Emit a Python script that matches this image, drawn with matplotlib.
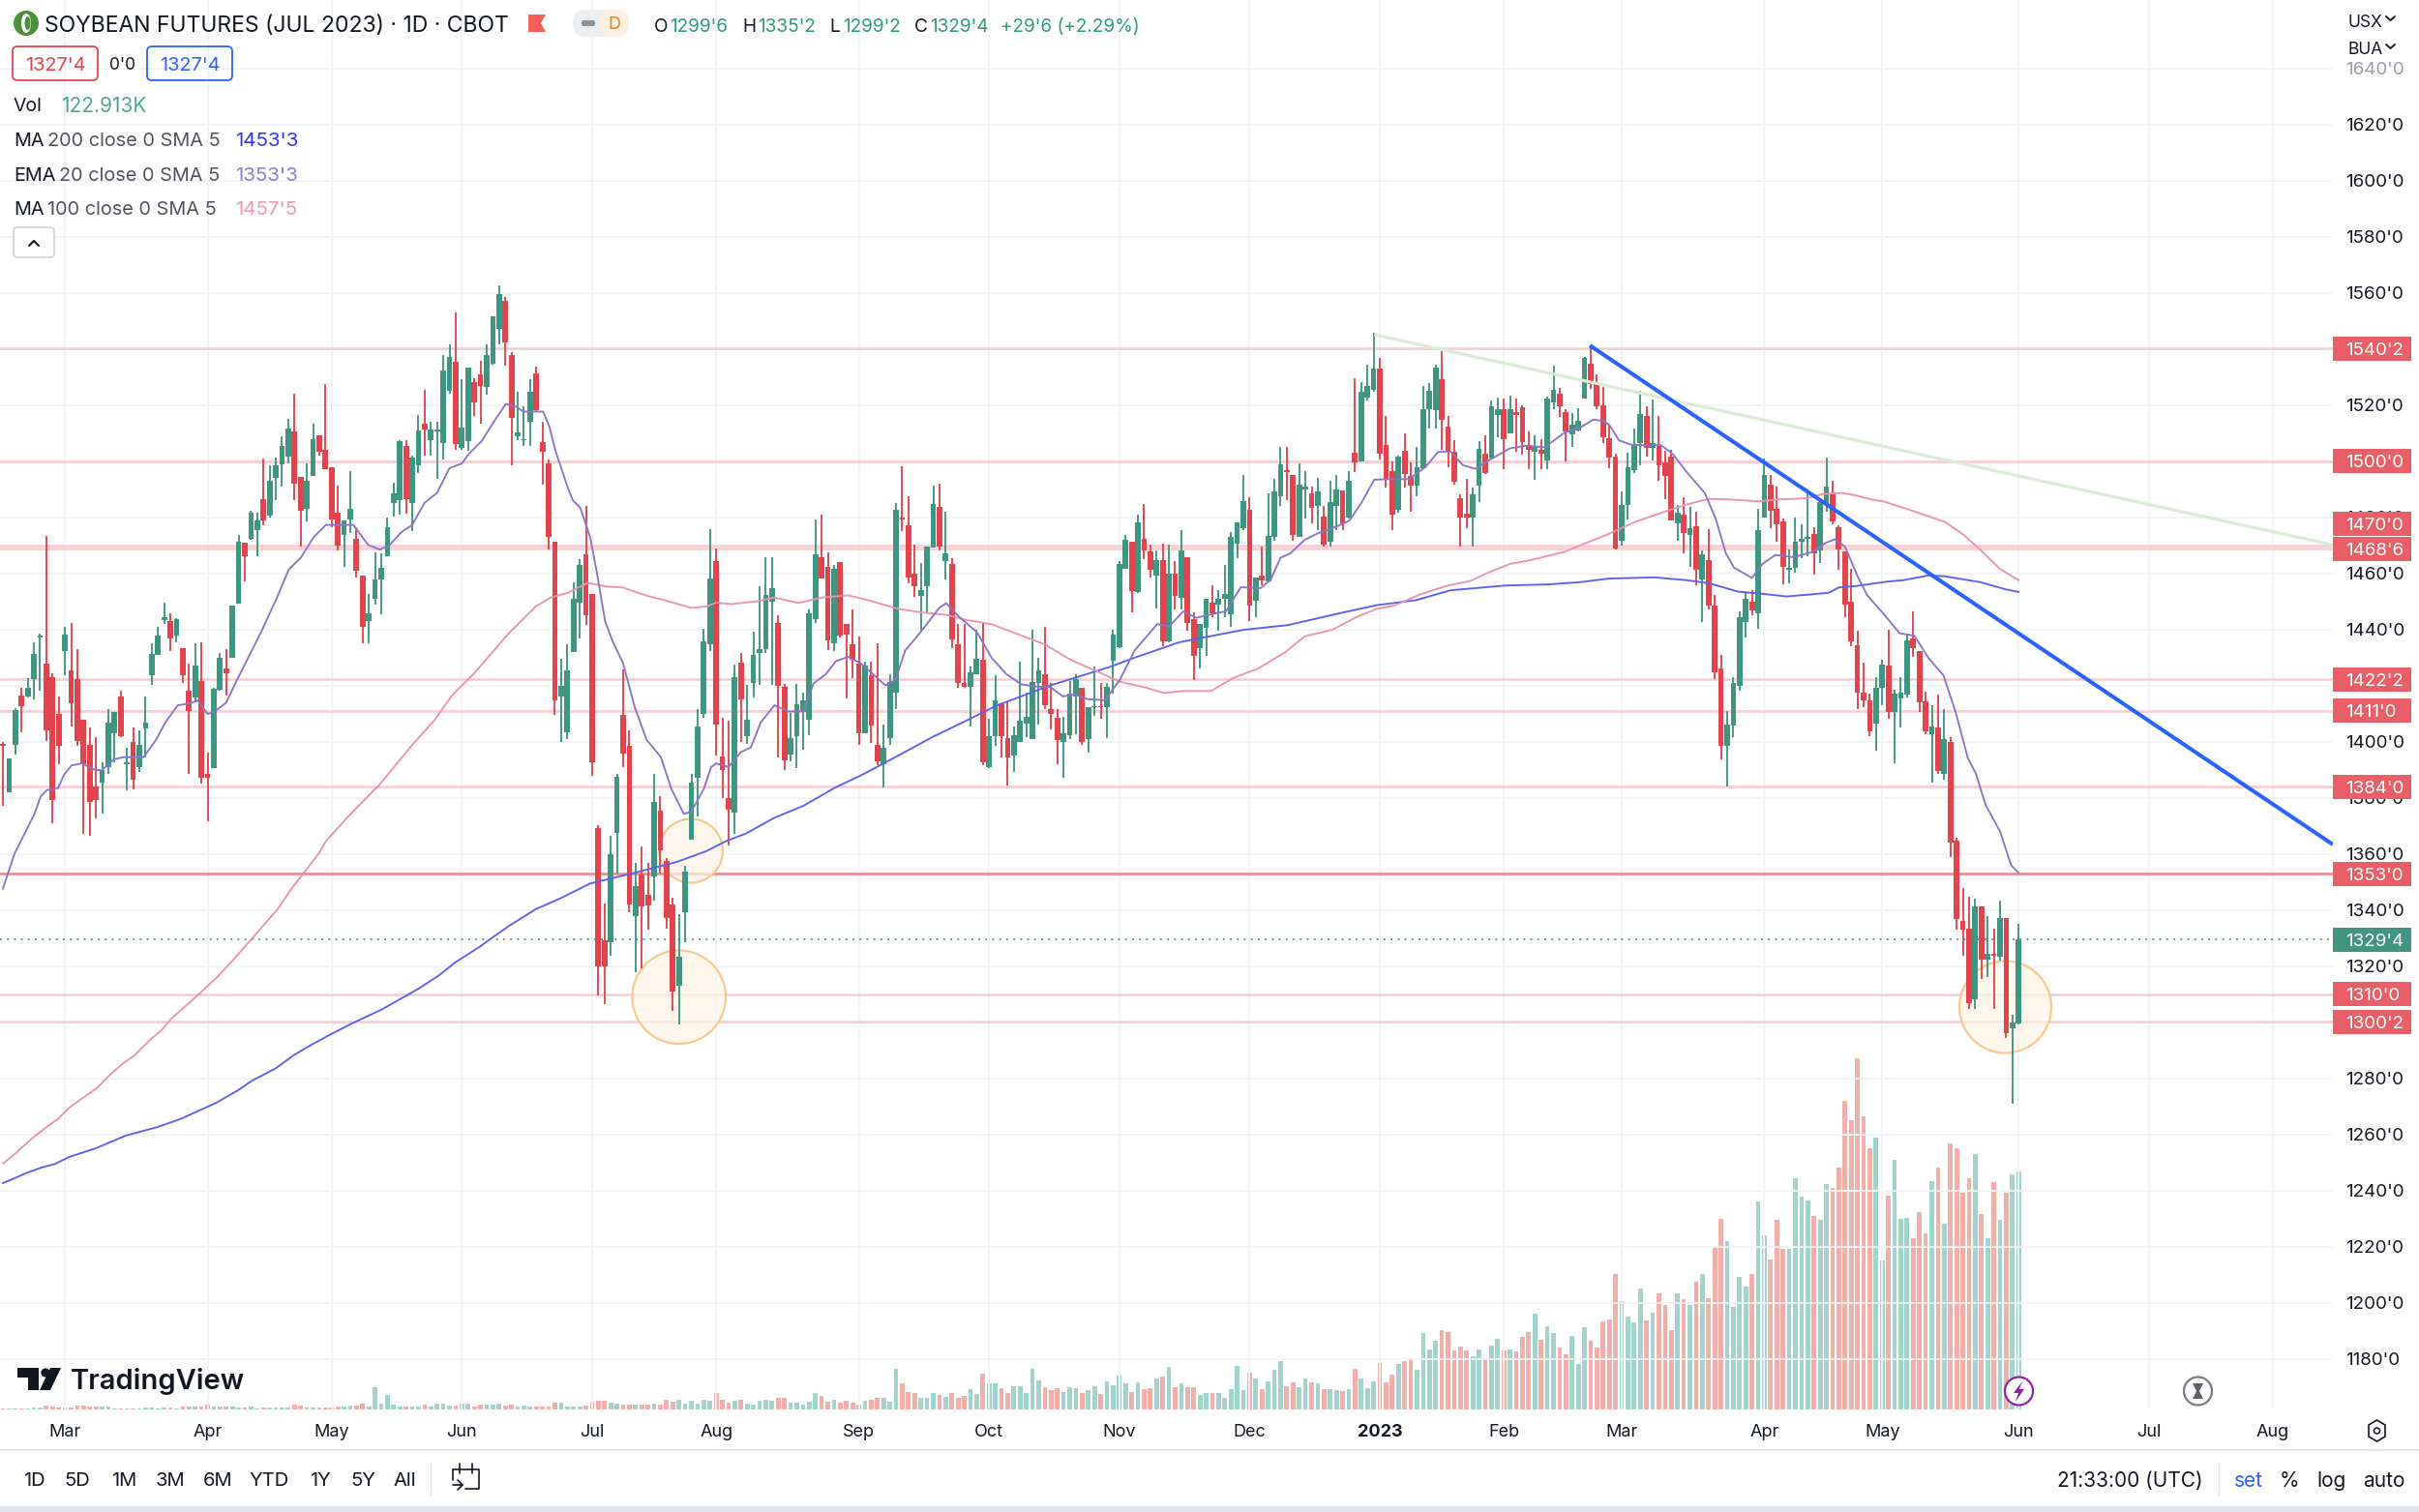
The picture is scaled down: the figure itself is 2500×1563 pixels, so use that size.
import numpy as np
import matplotlib
matplotlib.use("Agg")
import matplotlib.pyplot as plt
from matplotlib.patches import Rectangle, FancyBboxPatch, Ellipse, Circle, Polygon
from matplotlib.lines import Line2D
from matplotlib.transforms import Affine2D, IdentityTransform, blended_transform_factory

plt.rcParams['font.family'] = ['Inter', 'DejaVu Sans']

# ---------------------- data ----------------------
opens = [1399.3,1381.9,1399.0,1416.6,1416.0,1422.5,1437.0,1427.8,1423.2,1409.9,
1432.2,1425.3,1422.3,1407.7,1398.9,1384.0,1385.4,1391.0,1403.0,1416.2,
1391.9,1399.8,1391.0,1404.7,1423.6,1431.0,1443.3,1443.0,1437.7,1433.3,
1418.1,1415.8,1421.8,1388.7,1390.7,1418.6,1426.2,1429.9,1449.3,1470.9,
1472.5,1475.3,1486.6,1480.6,1494.0,1498.9,1501.7,1510.7,1494.5,1482.9,
1494.7,1509.3,1504.0,1497.9,1481.7,1473.6,1479.2,1472.3,1459.1,1443.0,
1451.0,1457.7,1466.2,1485.2,1486.0,1505.4,1485.0,1498.4,1513.3,1507.4,
1510.7,1506.5,1525.1,1535.5,1504.9,1507.2,1528.3,1530.9,1526.5,1534.8,
1547.3,1557.3,1537.8,1509.0,1507.4,1514.2,1531.3,1507.0,1499.1,1471.3,
1416.0,1403.3,1431.9,1449.6,1466.7,1452.6,1369.4,1329.4,1328.5,1367.6,
1409.7,1398.6,1337.7,1352.6,1345.3,1352.1,1375.4,1357.6,1342.1,1313.1,
1339.4,1365.0,1387.2,1409.9,1434.8,1464.4,1394.9,1379.9,1374.8,1428.3,
1402.1,1421.0,1431.5,1432.9,1450.0,1442.2,1419.6,1395.6,1402.0,1410.6,
1408.0,1443.7,1465.9,1462.4,1435.0,1464.0,1442.0,1434.9,1428.0,1403.0,
1423.7,1399.0,1392.1,1401.4,1417.5,1479.8,1477.3,1460.0,1452.0,1455.4,
1469.1,1483.7,1464.5,1463.4,1434.6,1420.8,1419.5,1424.1,1429.2,1391.0,
1402.0,1413.5,1401.4,1395.0,1399.9,1406.5,1401.0,1420.8,1424.1,1411.7,
1408.5,1399.9,1402.3,1416.2,1419.2,1401.0,1412.3,1412.7,1412.5,1429.0,
1433.6,1461.7,1471.3,1453.5,1472.5,1468.0,1459.3,1464.6,1435.7,1460.0,
1451.4,1465.9,1443.7,1433.4,1440.6,1449.6,1449.0,1450.9,1445.6,1470.5,
1476.0,1482.7,1450.4,1459.1,1457.1,1473.0,1487.4,1497.0,1495.0,1473.2,
1490.0,1488.7,1484.1,1480.2,1471.3,1484.1,1489.5,1479.9,1502.9,1500.0,
1522.8,1525.4,1533.0,1505.9,1496.4,1482.6,1503.7,1494.7,1491.4,1497.6,
1518.7,1518.2,1529.3,1512.4,1503.3,1487.0,1481.2,1479.9,1491.3,1502.6,
1501.3,1516.5,1518.7,1509.9,1517.4,1519.1,1505.9,1503.3,1504.2,1500.2,
1520.8,1524.2,1517.6,1509.6,1511.1,1522.3,1534.8,1527.9,1519.9,1508.3,
1501.7,1471.8,1484.4,1496.7,1506.4,1516.1,1504.6,1505.8,1499.5,1501.7,
1477.8,1480.8,1473.7,1476.7,1457.8,1464.7,1448.7,1426.0,1398.4,1405.8,
1419.9,1442.7,1450.0,1445.7,1479.9,1491.8,1483.2,1478.4,1461.2,1461.9,
1471.3,1472.2,1473.9,1468.1,1484.9,1488.7,1476.5,1467.7,1450.1,1434.3,
1417.6,1414.8,1406.4,1419.1,1427.0,1410.7,1415.4,1416.7,1436.7,1432.4,
1414.5,1402.7,1405.1,1388.7,1399.9,1364.9,1336.3,1333.3,1308.1,1341.2,
1322.3,1324.4,1323.4,1337.3,1298.0,1299.75]

closes = [1398.4,1394.2,1411.3,1412.7,1419.2,1431.3,1437.7,1403.9,1379.1,1398.6,
1438.2,1413.7,1400.2,1391.9,1378.4,1379.1,1390.1,1406.9,1410.7,1402.1,
1392.8,1386.6,1398.9,1406.9,1431.3,1438.0,1444.4,1436.8,1443.8,1423.6,
1411.1,1427.1,1387.3,1387.3,1418.8,1430.1,1424.5,1448.7,1471.3,1466.3,
1481.7,1479.0,1479.0,1492.9,1498.4,1505.4,1511.6,1491.9,1482.2,1492.9,
1507.7,1503.5,1497.2,1479.4,1470.0,1478.8,1483.2,1461.1,1440.8,1445.8,
1457.7,1462.1,1476.6,1488.5,1507.2,1486.4,1501.4,1511.0,1511.4,1511.4,
1511.2,1532.3,1537.1,1506.3,1512.1,1533.4,1521.1,1526.9,1537.8,1551.7,
1559.6,1542.4,1515.5,1510.2,1507.9,1524.8,1518.1,1503.5,1472.9,1414.8,
1420.0,1425.3,1450.9,1463.2,1445.2,1392.8,1320.1,1319.9,1359.9,1387.5,
1395.9,1341.9,1348.4,1341.4,1341.7,1378.7,1361.4,1337.3,1310.9,1323.5,
1353.7,1385.4,1405.4,1435.9,1458.2,1406.0,1389.8,1375.7,1423.0,1415.1,
1407.7,1431.1,1432.9,1452.3,1454.7,1420.1,1393.5,1401.3,1413.5,1414.6,
1445.9,1466.8,1458.1,1436.0,1461.7,1437.9,1438.3,1429.4,1403.0,1427.1,
1405.9,1393.1,1397.7,1421.3,1482.8,1479.4,1458.4,1455.4,1454.2,1469.6,
1484.9,1469.6,1467.2,1436.6,1421.0,1419.7,1424.7,1429.6,1392.8,1402.0,
1414.6,1402.0,1394.4,1402.3,1407.6,1408.9,1421.3,1425.3,1412.9,1410.0,
1400.7,1403.0,1417.2,1422.5,1400.0,1412.5,1412.7,1412.3,1419.5,1438.2,
1463.4,1471.9,1453.8,1478.2,1468.3,1461.4,1464.6,1435.7,1460.1,1452.1,
1468.3,1442.4,1430.7,1441.9,1450.9,1445.9,1451.0,1452.8,1473.0,1478.2,
1485.8,1448.5,1458.4,1457.5,1473.3,1489.1,1498.9,1496.3,1473.8,1491.6,
1491.1,1483.5,1489.4,1470.4,1485.4,1490.1,1478.0,1493.0,1499.7,1524.8,
1526.7,1533.2,1502.6,1493.4,1481.1,1501.7,1495.4,1491.4,1497.7,1518.7,
1525.0,1533.4,1514.9,1503.3,1492.7,1479.9,1479.9,1488.1,1504.3,1495.7,
1519.5,1518.7,1507.9,1518.4,1516.5,1506.8,1504.2,1505.6,1502.6,1522.4,
1525.5,1519.5,1510.5,1513.0,1514.4,1536.9,1527.5,1519.5,1508.7,1501.4,
1469.0,1484.4,1498.0,1506.0,1516.9,1504.6,1506.6,1498.6,1494.6,1478.9,
1481.6,1474.3,1476.0,1461.2,1466.8,1448.5,1424.7,1398.4,1406.0,1421.0,
1444.4,1450.9,1446.8,1475.4,1495.0,1482.5,1477.4,1462.3,1461.9,1471.3,
1472.2,1473.1,1467.2,1485.5,1491.1,1478.4,1468.5,1449.0,1435.8,1417.4,
1414.6,1403.6,1419.1,1427.5,1410.7,1417.3,1417.6,1436.3,1433.5,1413.9,
1403.6,1405.3,1389.6,1400.8,1364.0,1336.9,1333.2,1306.8,1341.4,1322.3,
1324.4,1323.8,1337.3,1296.1,1299.9,1329.5]

highs = [1399.8,1394.2,1412.1,1419.2,1422.7,1435.5,1438.5,1473.4,1424.5,1416.2,
1440.8,1442.4,1432.9,1407.7,1405.1,1401.6,1392.8,1411.6,1410.7,1418.3,
1398.0,1405.1,1404.2,1416.2,1435.0,1440.8,1449.6,1445.9,1444.2,1433.3,
1427.8,1435.0,1435.4,1396.3,1419.2,1431.5,1432.9,1448.7,1473.7,1470.9,
1482.2,1481.7,1501.0,1498.4,1501.4,1508.9,1515.1,1523.9,1494.5,1499.3,
1513.3,1509.3,1527.6,1497.9,1491.3,1478.8,1496.6,1476.4,1459.1,1452.6,
1467.6,1467.2,1479.9,1492.2,1507.5,1507.5,1501.9,1516.5,1525.3,1514.2,
1513.9,1538.0,1541.5,1552.9,1529.2,1533.4,1529.5,1535.7,1541.5,1551.7,
1562.6,1558.7,1538.9,1524.8,1519.5,1529.2,1533.6,1513.9,1500.5,1471.3,
1429.7,1434.7,1456.7,1465.0,1483.9,1452.6,1370.3,1342.3,1366.6,1388.7,
1425.7,1404.2,1356.7,1362.7,1356.7,1388.7,1380.5,1358.5,1344.4,1338.6,
1355.8,1388.7,1411.6,1440.3,1475.9,1469.0,1408.6,1407.4,1427.6,1431.5,
1420.4,1439.4,1455.3,1465.8,1465.8,1445.2,1420.5,1410.2,1420.5,1417.5,
1447.2,1479.1,1480.8,1467.4,1463.0,1464.0,1442.0,1447.1,1437.5,1428.4,
1428.7,1435.0,1406.0,1424.1,1485.2,1498.2,1487.4,1470.3,1463.7,1469.6,
1491.2,1492.0,1482.1,1465.3,1441.9,1441.9,1426.7,1439.9,1442.6,1408.2,
1423.8,1413.5,1414.2,1405.6,1428.7,1417.5,1439.9,1430.0,1441.1,1420.8,
1411.5,1408.9,1421.8,1424.1,1419.2,1412.5,1426.7,1420.8,1420.8,1439.9,
1464.3,1473.8,1471.3,1480.8,1484.8,1470.3,1468.3,1470.7,1470.3,1464.3,
1475.3,1465.9,1446.1,1441.9,1451.1,1455.8,1454.2,1463.0,1474.9,1478.2,
1495.0,1487.0,1458.4,1469.6,1488.4,1493.8,1505.2,1505.2,1495.0,1499.3,
1496.4,1491.0,1494.0,1484.1,1493.1,1495.1,1489.5,1496.4,1529.7,1528.3,
1534.3,1545.9,1536.9,1516.0,1500.0,1502.0,1510.1,1499.7,1505.2,1526.7,
1527.7,1534.3,1540.0,1516.0,1507.5,1488.1,1493.8,1490.5,1507.0,1509.2,
1521.7,1522.7,1522.4,1523.5,1522.4,1519.8,1510.5,1509.2,1507.9,1523.0,
1534.1,1526.0,1518.6,1517.2,1518.9,1537.2,1541.4,1531.1,1526.4,1512.6,
1502.7,1489.2,1503.2,1511.5,1525.1,1519.5,1521.9,1516.1,1503.6,1504.0,
1484.4,1487.3,1483.8,1482.1,1468.1,1475.9,1452.2,1431.1,1411.1,1423.2,
1446.6,1453.5,1454.1,1483.0,1500.8,1495.0,1491.1,1479.7,1468.7,1479.9,
1477.4,1488.7,1476.5,1486.8,1501.2,1493.0,1477.1,1467.7,1461.6,1439.7,
1428.3,1417.3,1423.2,1429.2,1440.0,1418.6,1423.2,1438.6,1446.6,1432.4,
1418.0,1413.0,1416.7,1411.6,1401.8,1365.7,1347.9,1344.7,1344.2,1341.4,
1337.8,1333.5,1343.4,1337.3,1302.7,1335.25]

lows = [1377.3,1381.9,1395.4,1403.3,1415.7,1415.1,1418.3,1400.4,1370.8,1391.9,
1423.6,1405.6,1398.6,1367.3,1366.6,1372.6,1374.3,1388.4,1392.8,1401.6,
1382.8,1383.1,1389.3,1394.5,1420.4,1431.0,1442.1,1432.4,1435.5,1421.0,
1388.7,1413.9,1385.2,1371.5,1390.7,1418.3,1416.6,1429.9,1449.3,1457.0,
1472.0,1466.2,1477.1,1479.9,1486.1,1490.8,1499.3,1486.1,1469.7,1478.7,
1494.7,1501.9,1497.2,1476.4,1468.3,1462.3,1474.3,1458.4,1435.2,1435.2,
1448.9,1445.6,1466.2,1480.2,1480.8,1481.3,1475.0,1495.7,1501.9,1501.9,
1493.6,1500.5,1523.9,1504.2,1504.2,1503.7,1516.0,1513.3,1523.6,1534.5,
1541.5,1533.9,1498.7,1507.5,1505.4,1505.4,1517.7,1491.5,1468.5,1409.5,
1400.0,1401.0,1431.9,1436.8,1441.7,1388.0,1309.5,1306.5,1323.6,1353.2,
1391.0,1339.1,1318.0,1319.4,1332.9,1343.5,1353.2,1333.3,1303.9,1299.2,
1328.5,1365.0,1373.4,1408.6,1432.4,1395.1,1379.9,1362.9,1367.3,1399.8,
1399.3,1415.7,1420.4,1431.5,1420.4,1394.4,1389.9,1393.1,1390.7,1397.0,
1402.3,1442.2,1458.1,1432.7,1432.4,1437.0,1415.5,1422.8,1399.0,1403.0,
1399.7,1391.8,1383.8,1399.0,1411.8,1475.2,1456.4,1451.8,1439.3,1445.8,
1469.1,1468.3,1457.7,1433.3,1419.2,1419.2,1405.6,1424.1,1391.8,1390.7,
1398.6,1394.4,1384.5,1389.4,1399.9,1401.6,1401.0,1406.3,1411.8,1404.3,
1392.0,1387.1,1401.0,1402.6,1399.0,1396.1,1409.2,1408.3,1401.3,1417.2,
1433.3,1461.7,1446.2,1453.1,1465.0,1458.4,1447.4,1434.2,1435.3,1447.2,
1447.2,1439.5,1422.1,1426.3,1430.7,1444.5,1439.5,1444.5,1440.8,1465.4,
1475.6,1443.0,1444.3,1455.8,1456.7,1471.6,1484.1,1486.1,1471.6,1472.9,
1479.5,1477.8,1475.6,1469.6,1469.6,1475.6,1475.3,1479.5,1496.0,1500.0,
1521.7,1524.8,1500.6,1490.5,1475.6,1481.8,1490.7,1482.1,1487.4,1497.3,
1511.6,1511.6,1504.2,1498.0,1491.8,1469.6,1476.2,1469.6,1485.4,1495.4,
1501.0,1508.5,1497.3,1509.9,1503.3,1502.4,1497.3,1493.4,1497.3,1497.3,
1518.6,1515.8,1499.9,1505.1,1510.7,1522.3,1525.7,1518.6,1506.4,1497.6,
1468.5,1470.0,1479.3,1495.8,1498.4,1501.7,1500.2,1493.0,1486.4,1478.9,
1471.8,1467.2,1462.5,1455.8,1442.7,1447.2,1422.3,1393.7,1384.0,1401.7,
1418.2,1437.3,1445.1,1440.4,1479.9,1476.1,1471.3,1456.0,1456.5,1460.2,
1465.3,1466.2,1459.7,1463.8,1481.9,1477.4,1461.2,1444.4,1434.1,1411.5,
1412.4,1402.1,1396.7,1413.0,1408.3,1392.4,1405.1,1415.8,1430.2,1410.7,
1402.7,1385.3,1388.7,1386.4,1358.8,1333.0,1323.6,1304.6,1304.6,1315.6,
1316.3,1304.9,1322.0,1294.3,1270.9,1299.25]

# volume in thousands of contracts
volumes = [.7,.5,.7,.5,.7,.8,.8,2,1.7,.8,
1.2,.8,1.8,1.8,1.5,1.3,1.3,1.3,.5,.5,
.7,.5,.5,1.2,1.2,.7,.8,.8,.5,1.3,
1.7,1.3,1.7,2.3,1.7,1.5,1.3,1.3,1.2,1,
1.5,.7,.8,.8,.8,1.2,.8,2.3,2,1,
1,.8,.8,1,1.7,1.7,2,1.8,3,1.7,
11.3,3,7.7,2.3,1.7,1.3,1.7,1.7,2.3,1.3,
2.8,3,2,2.2,3.2,2.8,1.3,2.5,2.5,2.7,
2.8,2,2.7,1.5,2,1.3,1.3,1.3,1.5,3.5,
3.5,1.7,1.7,1.7,2.2,3.8,4.5,4.5,3.7,3,
2.5,2.5,2.5,2.5,2.5,3,2.5,5,4.2,5,
2.8,4.7,2.8,5,4.7,8.3,5,3.7,4.7,5,
3,2.5,4.3,5.2,4.7,6,6,3.5,3.5,2.3,
4.2,8.3,7,4.2,5,3.7,4.7,3.7,2.7,4.5,
5,5.8,6.2,3.8,21,13.3,9.2,8.3,6.2,6.2,
8.3,7.5,6.3,8.7,6.2,7,10.5,7.8,18.7,13.7,
13.7,11,8.7,12.2,12.2,8.7,21,15,11.3,10,
11.2,9.2,11.7,10.8,8.3,10,12,8,14.5,12.5,
17.5,13.7,9.2,14.2,10.3,10.8,15.8,17,22.2,11.7,
13.3,11.3,11.3,7.5,8.7,
8.7,8.3,6.2,10.5,22.5,10,18.8,16.2,10.5,14.7,
20.3,25,12,14.2,11.3,15.8,14.2,13.3,10.5,10.5,
10,9.7,10.5,21.2,15.8,11,14.7,24,14.2,18,
23.3,25,26.7,20.3,39.3,31,35.5,41,40,30.3,
32.7,30.3,27.5,31,25.3,33,36.3,30.7,30.8,30,
37.5,40,49.7,36,43,39.7,32,28.7,38.2,23.3,
42.3,35.3,32,45.3,46.3,70,55.8,48,45,62.3,
46,50,60,54.2,41,60,57,54.2,65.8,70,
57.5,84.2,98.3,87.2,53,68.7,63.7,70,107.5,90,
77.5,98,83,83.2,119.5,110,108,100,98,116.7,
114.3,125,
159.5,149.3,181.5,151.3,
135,140.5,77.2,110.5,128.8,98.5,98.8,88.3,102.2,91,117.8,125,96,137.5,135,111.8,119.7,132,101,88.3,117.5,98,112,121.3,122.9]

# moving averages as read at bar positions
ema_bar = [0.3,2.2,5.4,6.4,7.4,9.2,10.2,11.4,13,15,16.2,18.2,19.7,23,25,26.5,28.5,30.5,31.7,33.3,34.5,36.3,38,40.4,42,44.4,46.4,48.4,50.4,52.4,54.8,56.8,59.2,61.1,62.7,64.5,66.3,68.3,70.3,72.3,74.3,75.5,77.5,79.5,81.4,83,84.2,87.4,88.4,89.4,91.4,92.2,93.4,95,96.2,97.4,98.6,100.3,102.2,104.1,106.4,108.1,110.1,111.3,113.3,114.5,115.3,117.3,119.3,120.9,122.5,124.7,
127,129.4,131,133,134.6,136.6,138.6,140.6,142.6,144.2,145.8,148.1,149.7,151.3,152.4,154.5,157.3,159.7,162.1,164.5,166.8,169.2,171.2,173.2,175.2,178,180.4,182.8,186.4,188.4,190.6,192.7,195.5,197.5,199.9,203.1,204.7,206.3,207.9,210.2,212.2,215.4,217.4,219.4,221.4,223.4,227,229.7,231.7,233.7,235.7,237.7,240.1,243.3,245.7,248.9,
252.1,254.6,256.7,258.3,259.3,260.9,263,267.6,269.5,271.8,274.7,276.5,278.1,279.4,282.3,284,286.1,289,292.1,294.2,295.7,297.3,299.4,300.9,303.5,306.1,308.5,310.8,313.2,315.2,317.1,318.4,320,322.3,324.1,325.3]
ema_val = [1347.6,1360.2,1374.3,1380.5,1382.8,1383.5,1388.4,1391.6,1392.3,1390.1,1389.8,1393.7,1394.5,1394.5,1400.7,1406.9,1413,1413.7,1414.8,1409.9,1410.9,1413.9,1421.8,1432.4,1439.4,1450.9,1461.4,1465.8,1472.9,1477.3,1477.3,1477.3,1470.2,1468.5,1470.2,1474.6,1477.3,1485.2,1488.7,1497.5,1499.2,1502.8,1507.2,1514.2,1520.4,1519.5,1517.7,1517.7,1512.5,1503.7,1490.5,1486.1,1483.4,1472.9,1458.8,1443,1435.9,1428,1412.2,1400.7,1394.5,1383.1,1374.3,1375.2,1383.1,1391,1392.3,1391,1396.3,1398,1406.9,1413,
1410.8,1410.8,1420.8,1424.1,1428.7,1430.3,1428,1424.1,1420.1,1422.1,1432.6,1438.6,1443.2,1447.8,1449.4,1444.5,1439.2,1430,1424.1,1420.5,1419.7,1419.5,1416.2,1416.8,1415.2,1414.8,1422.1,1432.6,1441.9,1441.2,1446.5,1444.2,1445.6,1446.5,1455.1,1454.8,1457.7,1465.6,1467.2,1472,1474.2,1476.8,1478.8,1485.4,1493.4,1493.6,1493.6,1498,1503.3,1503.5,1498.6,1497.3,1500.6,1504.6,1505.5,1505,
1510.2,1512,1514.8,1514.4,1513,1507.4,1505.8,1505.8,1502.7,1496.1,1488.7,1479.3,1467.2,1462.1,1458.4,1463.4,1466.6,1465.8,1467.7,1470.9,1472.2,1469.6,1458.7,1452.2,1445.7,1438.7,1437.8,1429.8,1423.6,1410.2,1394.3,1388.7,1377.4,1368.1,1356,1353.3]

ma100_bar = [.36,2.45,5.04,7.38,9.2,11.03,12.84,15.44,17.47,19.86,21.42,24.29,25.9,27.4,32.1,34.7,37.3,40.4,44.6,46.9,48.7,51.3,52.4,56,61.1,66.3,69.9,72.7,76.3,81.8,86.2,88.6,91.4,94.6,97.8,100.2,104.1,107.3,111.3,113.7,115.3,117.7,121.7,124.7,
128.6,132.6,136.6,139.8,144.6,148.5,152.5,155.7,159.7,164.5,168.4,172.4,176.4,180.4,184.4,187.5,190.7,195.1,198.7,202.7,207.1,210.2,214.6,218.6,221.8,224.6,229,233.3,236.9,240.1,243.3,246.5,249.5,
252.1,254.6,258.8,263.5,267.7,271.8,275.4,278.6,283.3,286.9,291.1,293.7,296.8,298.9,301.5,303.5,307.7,313.4,316.5,319.1,322.3,325.3]
ma100_val = [1249.7,1253.5,1258.7,1262.7,1265.6,1269.6,1272.5,1276.5,1281.1,1285.7,1288,1294.3,1297.2,1301.2,1310.4,1315.8,1321.9,1329.7,1340.3,1347.8,1352.9,1360.4,1364.6,1373.4,1384.9,1398.9,1407.7,1416.5,1424.4,1438.5,1448.2,1451.4,1453.1,1456.6,1455.3,1455,1452.1,1450.3,1447.7,1448.2,1449.6,1449.1,1450,1451.4,
1449.5,1451.5,1452.2,1450.5,1447.4,1446.1,1445.2,1443.4,1441.9,1437.9,1434.6,1429.3,1425.4,1421.4,1419.4,1417.4,1418.1,1418.1,1422.8,1426.1,1432,1437.6,1439.9,1444.5,1447.4,1448.5,1452.7,1455.7,1457.3,1460.6,1463.4,1464.7,1466.3,
1467.7,1470,1473.7,1478.4,1481.6,1484.6,1486.6,1486.4,1485.7,1486.4,1486.8,1488.3,1488.7,1487.9,1486.4,1485.7,1482.7,1478.4,1473.7,1468.5,1461.6,1457.6]

ma200_bar = [.3,1.4,4,6.6,8.7,11,15.4,20.1,25.3,29,32.1,34.7,38.3,40.4,44.3,47.2,50.3,53.4,56.5,61.5,65.1,67.4,70.6,73.2,77.3,78.9,82,86.2,90.3,95,101.8,109,113.7,116.9,120.1,124.7,
129.4,134.6,139,144.6,150.1,155.7,160.5,169.2,178.8,182.8,190,200.3,207.5,215.4,221.8,228.2,233.7,242.5,249.5,
254.6,259.3,266.6,271.8,275.4,280.1,283.8,287.9,294.7,296.3,299.4,304.1,306.7,310.8,313.4,319.1,323.3,325.3]
ma200_val = [1242.7,1243.7,1246.2,1248.3,1249.5,1252,1255.2,1259.6,1262.7,1265.6,1268.7,1271.3,1275.9,1279.1,1283.6,1288.3,1292.3,1296,1299.5,1304.7,1309.2,1312.1,1316.7,1321.3,1327.1,1329.7,1334.5,1340.3,1344.3,1349.5,1353.1,1357.2,1361,1364.6,1367.3,1372.9,
1377.2,1383.8,1388.4,1395,1401.6,1407.6,1412.9,1420.1,1426.7,1430,1435.5,1439.9,1441.6,1445.6,1448.7,1450.5,1454,1455.7,1456.1,
1456.9,1458.2,1458.6,1457.6,1456.5,1453.5,1452.8,1451.8,1453.1,1455,1455.6,1457.1,1457.6,1459.3,1459,1456.9,1454.3,1453.4]

level_prices = [1540.25, 1500.0, 1470.0, 1468.75, 1422.25, 1411.0, 1384.0, 1353.0, 1310.0, 1300.25]
level_labels = ["1540'2", "1500'0", "1470'0", "1468'6", "1422'2", "1411'0", "1384'0", "1353'0", "1310'0", "1300'2"]
level_tag_at = [1540.25, 1500.0, 1477.7, 1468.75, 1422.25, 1411.0, 1384.0, 1353.0, 1310.0, 1300.25]
last_price = 1329.5
last_label = "1329'4"

price_ticks = list(range(1180, 1641, 20))
month_bars = [10, 33, 53, 74, 95, 115, 138, 159, 180, 201, 222, 242, 261, 284, 303, 325, 346, 366]
month_labels = ["Mar","Apr","May","Jun","Jul","Aug","Sep","Oct","Nov","Dec","2023","Feb","Mar","Apr","May","Jun","Jul","Aug"]

blue_trend_bar, blue_trend_val = [255.85, 375.66], [1541.3, 1363.4]
green_trend_bar, green_trend_val = [221.1, 375.66], [1545.1, 1470.2]

for a in (opens, highs, lows, closes, volumes):
    assert len(a) == 326, len(a)
assert len(ema_bar) == len(ema_val), (len(ema_bar), len(ema_val))
assert len(ma100_bar) == len(ma100_val), (len(ma100_bar), len(ma100_val))
assert len(ma200_bar) == len(ma200_val), (len(ma200_bar), len(ma200_val))

# ---------------------- figure scaffolding ----------------------
W, H = 2500, 1563
fig = plt.figure(figsize=(W/100, H/100), dpi=100, facecolor='white')
PX = Affine2D().scale(1, -1).translate(0, H)   # pixel coordinates, y downward

RED, GREEN = '#e2444e', '#3f9680'
VRED, VGREEN = '#f0afab', '#a3d4cb'
GRID = '#f1f3f6'
TXT = '#131722'

PANE_R, PANE_B = 2411, 1457
ax_v = fig.add_axes([0, 1-PANE_B/H, PANE_R/W, PANE_B/H], zorder=0)
ax_p = fig.add_axes([0, 1-PANE_B/H, PANE_R/W, PANE_B/H], zorder=1)
ax_p.patch.set_alpha(0)

XLIM = (-3/6.41, (PANE_R-3)/6.41)
ax_p.set_xlim(*XLIM); ax_v.set_xlim(*XLIM)
ax_p.set_ylim(1640-(PANE_B-70.8)/2.9, 1640+70.8/2.9)
ax_v.set_ylim(0, PANE_B/2.0)

x = np.arange(len(opens))
o, h, l, c = map(np.array, (opens, highs, lows, closes))
up = c >= o
v = np.array(volumes)

ax_v.bar(x, v, width=0.74, color=[VGREEN if u else VRED for u in up], linewidth=0)
ax_v.set_xticks([]); ax_v.set_yticks([])
for s in ax_v.spines.values(): s.set_visible(False)
for s in ax_p.spines.values(): s.set_visible(False)

# grid
ax_p.yaxis.tick_right()
ax_p.set_yticks(price_ticks)
ax_p.set_yticklabels([f"{p}'0" for p in price_ticks], fontsize=13.5, color=TXT)
ax_p.set_xticks(month_bars)
ax_p.set_xticklabels(month_labels, fontsize=13, color=TXT)
ax_p.tick_params(axis='both', length=0)
ax_p.tick_params(axis='y', pad=9.4)
ax_p.tick_params(axis='x', pad=11)
ax_p.grid(True, color=GRID, lw=1.3, zorder=0)
ax_p.set_axisbelow(True)
for lbl, t in zip(ax_p.get_xticklabels(), month_labels):
    if t == '2023': lbl.set_fontweight('bold')
ax_p.get_yticklabels()[-1].set_color('#9a9da5')

# level lines
for p in level_prices:
    ax_p.axhline(p, color='#ea8a92' if p == 1353.0 else '#f8cdd1', lw=1.9, zorder=1)
ax_p.axhline(last_price, color=GREEN, lw=1.3, ls=(0, (1, 3)), zorder=1)

# highlighted circles (round in pixels)
for cx, cy, r in [(701.7, 1030.7, 48.3), (714, 879.5, 33), (2072.5, 1041, 47.5)]:
    bar = (cx-3)/6.41
    pr = 1640-(cy-70.8)/2.9
    ax_p.add_patch(Ellipse((bar, pr), 2*r/6.41, 2*r/2.9, facecolor='#fff5e8', alpha=0.7, edgecolor='none', zorder=1.5))
    ax_p.add_patch(Ellipse((bar, pr), 2*r/6.41, 2*r/2.9, facecolor='none', edgecolor='#f8c88d', lw=1.6, zorder=1.6))

# candles
ax_p.vlines(x, l, h, colors=[GREEN if u else RED for u in up], lw=1.35, zorder=2)
ax_p.bar(x, np.maximum(np.abs(c-o), 0.5), bottom=np.minimum(o, c), width=0.9,
         color=[GREEN if u else RED for u in up], linewidth=0, zorder=2.1)

# moving averages
OFF = 0.31
ax_p.plot(np.array(ma200_bar)-OFF, ma200_val, color='#5d5ff2', lw=1.35, zorder=3)
ax_p.plot(np.array(ma100_bar)-OFF, ma100_val, color='#ea92b0', lw=1.35, zorder=3)
ax_p.plot(np.array(ema_bar)-OFF, ema_val, color='#8a74ca', lw=1.35, zorder=3)

# trend lines
ax_p.plot(green_trend_bar, green_trend_val, color='#dcebd8', lw=2.4, zorder=3, solid_capstyle='butt')
ax_p.plot(blue_trend_bar, blue_trend_val, color='#2962ff', lw=2.9, zorder=3.2, solid_capstyle='butt')

# price tags on the scale
tr = blended_transform_factory(IdentityTransform(), ax_p.transData)
def tag(p, s, col):
    ax_p.add_patch(FancyBboxPatch((PANE_R, p-12.5/2.9), 81, 25/2.9, boxstyle="square,pad=0", transform=tr, facecolor=col, edgecolor='none', clip_on=False, zorder=10))
    ax_p.text(2424, p, s, transform=tr, color='white', fontsize=13.5, va='center_baseline', ha='left', clip_on=False, zorder=11)
for p, s in zip(level_tag_at, level_labels):
    tag(p, s, '#e95f68')
tag(last_price, last_label, '#41947f')

# ---------------------- pane furniture in pixel coordinates ----------------------
def T(x, y, s, size=13, color=TXT, ha='left', va='center_baseline', **kw):
    fig.text(x, y, s, transform=PX, fontsize=size, color=color, ha=ha, va=va, **kw)
def RR(x0, y0, x1, y1, fc='none', ec='none', lw=1, r=4, z=5):
    fig.add_artist(FancyBboxPatch((x0, y0), x1-x0, y1-y0, boxstyle=f"round,pad=0,rounding_size={r}", transform=PX, facecolor=fc, edgecolor=ec, linewidth=lw, zorder=z))
def LN(xs, ys, color=TXT, lw=1, z=5):
    fig.add_artist(Line2D(xs, ys, transform=PX, color=color, linewidth=lw, zorder=z, solid_capstyle='round'))

# header
fig.add_artist(Circle((27, 24), 13, transform=PX, facecolor='#4e8f3e', edgecolor='none', zorder=5))
fig.add_artist(Ellipse((27, 24), 10, 20, transform=PX, facecolor='white', edgecolor='none', zorder=6))
fig.add_artist(Ellipse((28.5, 24), 6, 14, transform=PX, facecolor='#4e8f3e', edgecolor='none', zorder=6))
T(46, 25, "SOYBEAN FUTURES (JUL 2023) · 1D · CBOT", size=16.5)
fig.add_artist(Polygon([(546,15),(564,15),(559,24),(564,33),(546,33)], transform=PX, facecolor='#f2615c', edgecolor='none', zorder=5))
RR(592, 10, 650, 38, fc='#eceef1', r=13)
RR(620, 10, 650, 38, fc='#fdf0df', r=13)
RR(601, 21, 615, 27, fc='#8b8f98', r=2, z=6)
T(635, 24, "D", size=13, color='#ea7d1f', ha='center', zorder=7)
G = '#2f9b7f'
for xx, s, col in [(676,"O",TXT),(692,"1299'6",G),(767,"H",TXT),(783,"1335'2",G),(857,"L",TXT),(871,"1299'2",G),(945,"C",TXT),(961,"1329'4",G),(1034,"+29'6 (+2.29%)",G)]:
    T(xx, 26, s, size=13.7, color=col)

RR(13, 48, 101, 83, ec='#e2444e', lw=1.3, r=5)
T(57, 66, "1327'4", size=14.3, color='#e2444e', ha='center')
T(126, 66, "0'0", size=12.5, ha='center')
RR(152, 48, 240, 83, ec='#2962ff', lw=1.3, r=5)
T(196, 66, "1327'4", size=14.3, color='#2962ff', ha='center')

T(14, 108, "Vol", size=14)
T(63, 108, "122.913K", size=15, color='#4fa797')
rows = [(144, "MA", 49, "200 close 0 SMA 5", "1453'3", '#2f35f2'),
        (180, "EMA", 61, "20 close 0 SMA 5", "1353'3", '#8f7bd2'),
        (215, "MA", 49, "100 close 0 SMA 5", "1457'5", '#ef97b4')]
for yy, a, bx, b, val, col in rows:
    T(14, yy, a, size=14.3)
    T(bx, yy, b, size=14.3, color='#50535e')
    T(243, yy, val, size=14.8, color=col)
RR(14, 235, 56, 266, fc='white', ec='#d1d4dc', lw=1.3, r=4)
LN([30, 35, 40], [254, 249, 254], lw=1.5)

# scale selectors
T(2426, 21, "USX", size=12.5)
LN([2466, 2470.5, 2475], [17, 21, 17], lw=1.4)
T(2426, 49, "BUA", size=12.5)
LN([2466, 2470.5, 2475], [46, 50, 46], lw=1.4)

# TradingView logo
k = '#131722'
fig.add_artist(Polygon([(18,1414),(40,1414),(40,1437),(29,1437),(29,1424),(18,1424)], transform=PX, facecolor=k, edgecolor='none', zorder=6))
fig.add_artist(Circle((47, 1419), 4.6, transform=PX, facecolor=k, edgecolor='none', zorder=6))
fig.add_artist(Polygon([(52,1414),(63,1414),(52,1437),(41,1437)], transform=PX, facecolor=k, edgecolor='none', zorder=6))
T(73, 1425, "TradingView", size=21, fontweight='semibold', color=k)

# badges
fig.add_artist(Circle((2086.5, 1438), 14.5, transform=PX, facecolor='white', edgecolor='#8e24aa', linewidth=1.6, zorder=6))
fig.add_artist(Polygon([(2090,1428),(2081,1440),(2086,1440),(2083,1449),(2092,1436),(2087,1436)], transform=PX, facecolor='#8e24aa', edgecolor='none', zorder=7))
fig.add_artist(Circle((2271.5, 1438), 14.5, transform=PX, facecolor='white', edgecolor='#787b86', linewidth=1.6, zorder=6))
fig.add_artist(Polygon([(2266,1430),(2277,1430),(2273,1438),(2277,1446),(2266,1446),(2270,1438)], transform=PX, facecolor='#5d606b', edgecolor='none', zorder=7))
# settings hexagon
fig.add_artist(Polygon([(2456.5,1468),(2465,1473),(2465,1485),(2456.5,1490),(2448,1485),(2448,1473)], transform=PX, facecolor='none', edgecolor=TXT, linewidth=1.2, zorder=6))
fig.add_artist(Circle((2456.5, 1479), 3, transform=PX, facecolor='none', edgecolor=TXT, linewidth=1.1, zorder=6))

# bottom bars
fig.add_artist(Rectangle((0, 1498), W, 2, transform=PX, facecolor='#e0e3eb', edgecolor='none', zorder=4))
fig.add_artist(Rectangle((0, 1557), W, 6, transform=PX, facecolor='#e0e3eb', edgecolor='none', zorder=4))
for xx, s in zip([35,80,128,176,225,278,331,375,418], ["1D","5D","1M","3M","6M","YTD","1Y","5Y","All"]):
    T(xx, 1529, s, size=14.5, ha='center')
LN([445,445],[1512,1545], color='#e0e3eb', lw=1)
# calendar icon
LN([468,495,495,481],[1519,1519,1539,1539], lw=1.2)
LN([468,468],[1519,1530], lw=1.2)
LN([475,475],[1513,1523], lw=1.2)
LN([488,488],[1513,1523], lw=1.2)
LN([468,478],[1535,1535], lw=1.2)
LN([473,478,473],[1530,1535,1540], lw=1.2)

T(2201, 1529, "21:33:00 (UTC)", size=15, ha='center')
LN([2293,2293],[1512,1545], color='#e0e3eb', lw=1)
T(2324, 1529, "set", size=15, color='#2962ff', ha='center')
T(2366, 1529, "%", size=15, ha='center')
T(2410, 1529, "log", size=15, ha='center')
T(2464, 1529, "auto", size=15, ha='center')

fig.savefig('out.png', dpi=100, facecolor='white')
